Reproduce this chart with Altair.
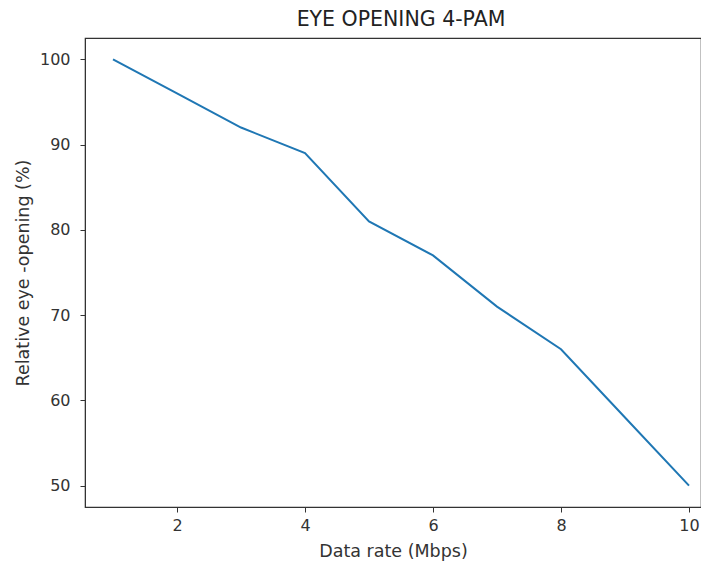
import altair as alt
import pandas as pd

rates = [1, 2, 3, 4, 5, 6, 7, 8, 9, 10]
opening = [100, 96, 92, 89, 81, 77, 71, 66, 58, 50]

df = pd.DataFrame({"rate": rates, "opening": opening})

FONT = "DejaVu Sans"
AX = dict(grid=False, tickColor="#333", domainColor="#333", labelColor="#333",
          titleColor="#333", labelFontSize=16, titleFontSize=17.5,
          titleFontWeight="normal", labelFont=FONT, titleFont=FONT, tickSize=5)

chart = alt.Chart(df).mark_line(color="#1f77b4", strokeWidth=2).encode(
    x=alt.X("rate:Q", scale=alt.Scale(domain=[0.5625, 10.1875], nice=False, zero=False),
            axis=alt.Axis(values=[2, 4, 6, 8, 10], title="Data rate (Mbps)",
                          labelPadding=5, titlePadding=9, **AX)),
    y=alt.Y("opening:Q", scale=alt.Scale(domain=[47.5, 102.5], nice=False, zero=False),
            axis=alt.Axis(values=[50, 60, 70, 80, 90, 100], title="Relative eye -opening (%)",
                          labelPadding=10, titlePadding=7, **AX)),
).properties(
    width=616, height=469,
    title=alt.TitleParams("EYE OPENING 4-PAM", fontSize=20.5, font=FONT, fontWeight="normal",
                          color="#222", offset=8, dx=8),
    autosize=alt.AutoSizeParams(type="none"),
    padding={"left": 77, "top": 30, "right": 0, "bottom": 54},
).configure_view(stroke="#333", strokeWidth=1.2)

chart.save("out.html", embed_options={"renderer": "svg", "actions": False})
